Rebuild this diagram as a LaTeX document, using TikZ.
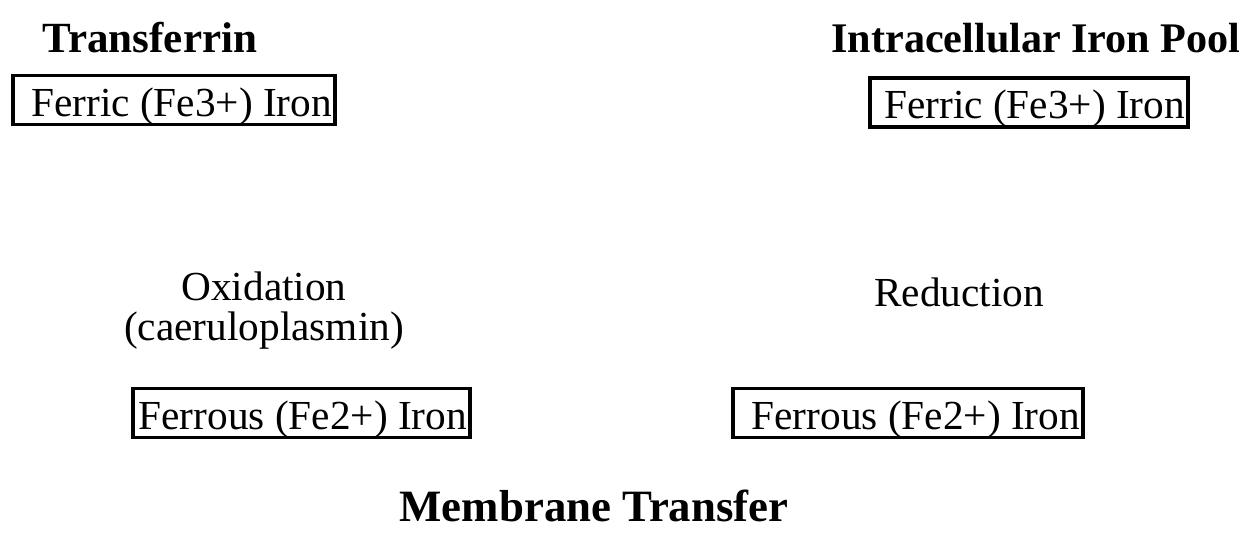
\documentclass[tikz,border=0pt]{standalone}
\usepackage{fontspec}
\setmainfont{Liberation Serif}
\usepackage{tikz}
\usetikzlibrary{positioning}

\tikzset{
    ironbox/.style={draw, line width=2pt, rectangle,
        text height=0.82cm, text depth=0.16cm, inner xsep=0.06cm, inner ysep=0pt},
    title/.style={font=\fontsize{24.5}{28}\selectfont\bfseries, anchor=base},
    step label/.style={anchor=base, align=center}
}

\begin{document}
\begin{tikzpicture}[font=\fontsize{23.5}{23}\selectfont]
    \useasboundingbox (0,0) rectangle (24.96,-10.92);
    % 标题
    \node[title] (tf) at (3.0,-1.06) {Transferrin};
    \node[title, font=\fontsize{24}{28}\selectfont\bfseries] (pool) at (20.72,-1.06) {Intracellular Iron Pool};
    \node[title, font=\fontsize{25.5}{28}\selectfont\bfseries] (mem) at (11.88,-10.44) {Membrane Transfer};
    % 铁的形态 (文字靠右)
    \node[ironbox] (ferric1) at (3.48,-2.0) {\makebox[6.32cm][r]{Ferric (Fe3+) Iron}};
    \node[ironbox] (ferric2) at (20.58,-2.05) {\makebox[6.24cm][r]{Ferric (Fe3+) Iron}};
    \node[ironbox] (ferrous1) at (6.03,-8.26) {\makebox[6.62cm][r]{Ferrous (Fe2+) Iron}};
    \node[ironbox] (ferrous2) at (18.16,-8.26) {\makebox[6.88cm][r]{Ferrous (Fe2+) Iron}};
    % 反应
    \node[step label] (ox) at (5.28,-6.82) {Oxidation\\(caeruloplasmin)};
    \node[step label] (red) at (19.18,-6.14) {Reduction};
\end{tikzpicture}
\end{document}
